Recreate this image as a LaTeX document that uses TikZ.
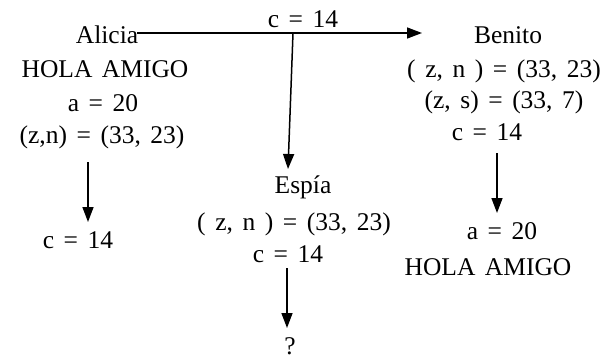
\documentclass[tikz,border=0pt]{standalone}
\usepackage{fontspec}
\setmainfont[WordSpace=1.5]{Liberation Serif}
\usetikzlibrary{arrows.meta}
\begin{document}
\begin{tikzpicture}[x=1pt,y=-1pt,
  txt/.style={anchor=base,inner sep=0pt,font=\fontsize{25.5}{30}\selectfont},
  arr/.style={line width=1.5pt,-{Triangle[length=15pt,width=11pt]}}]
\useasboundingbox (0,0) rectangle (604,359);
% Alicia
\node[txt] (alicia) at (107,43) {Alicia};
\node[txt] (a2) at (105,77) {HOLA AMIGO};
\node[txt] (a3) at (103,111) {a = 20};
\node[txt] (a4) at (102,143) {(z,n) = (33, 23)};
\node[txt] (a5) at (78,248) {c = 14};
\coordinate (a4s) at (88,162);
\coordinate (a5t) at (88,222);
\draw[arr] (a4s) -- (a5t);
% top channel
\coordinate (ta) at (137,33);
\coordinate (tb) at (422,33);
\node[txt] (tc) at (303,27) {c = 14};
\draw[arr] (ta) -- (tb);
% Espia
\coordinate (sa) at (293,33);
\coordinate (sb) at (288,169);
\draw[arr] (sa) -- (sb);
\node[txt] (e1) at (303,193) {Espía};
\node[txt] (e2) at (294,230) {( z, n ) = (33, 23)};
\node[txt] (e3) at (288,262) {c = 14};
\coordinate (e3s) at (287,268);
\coordinate (e4t) at (287,328);
\draw[arr] (e3s) -- (e4t);
\node[txt] (e4) at (290,354) {?};
% Benito
\node[txt] (b1) at (508,43) {Benito};
\node[txt] (b2) at (504,77) {( z, n ) = (33, 23)};
\node[txt] (b3) at (504,108) {(z, s) = (33, 7)};
\node[txt] (b4) at (487,140) {c = 14};
\coordinate (b4s) at (497,153);
\coordinate (b5t) at (497,213);
\draw[arr] (b4s) -- (b5t);
\node[txt] (b5) at (502,239) {a = 20};
\node[txt] (b6) at (488,275) {HOLA AMIGO};
\end{tikzpicture}
\end{document}
